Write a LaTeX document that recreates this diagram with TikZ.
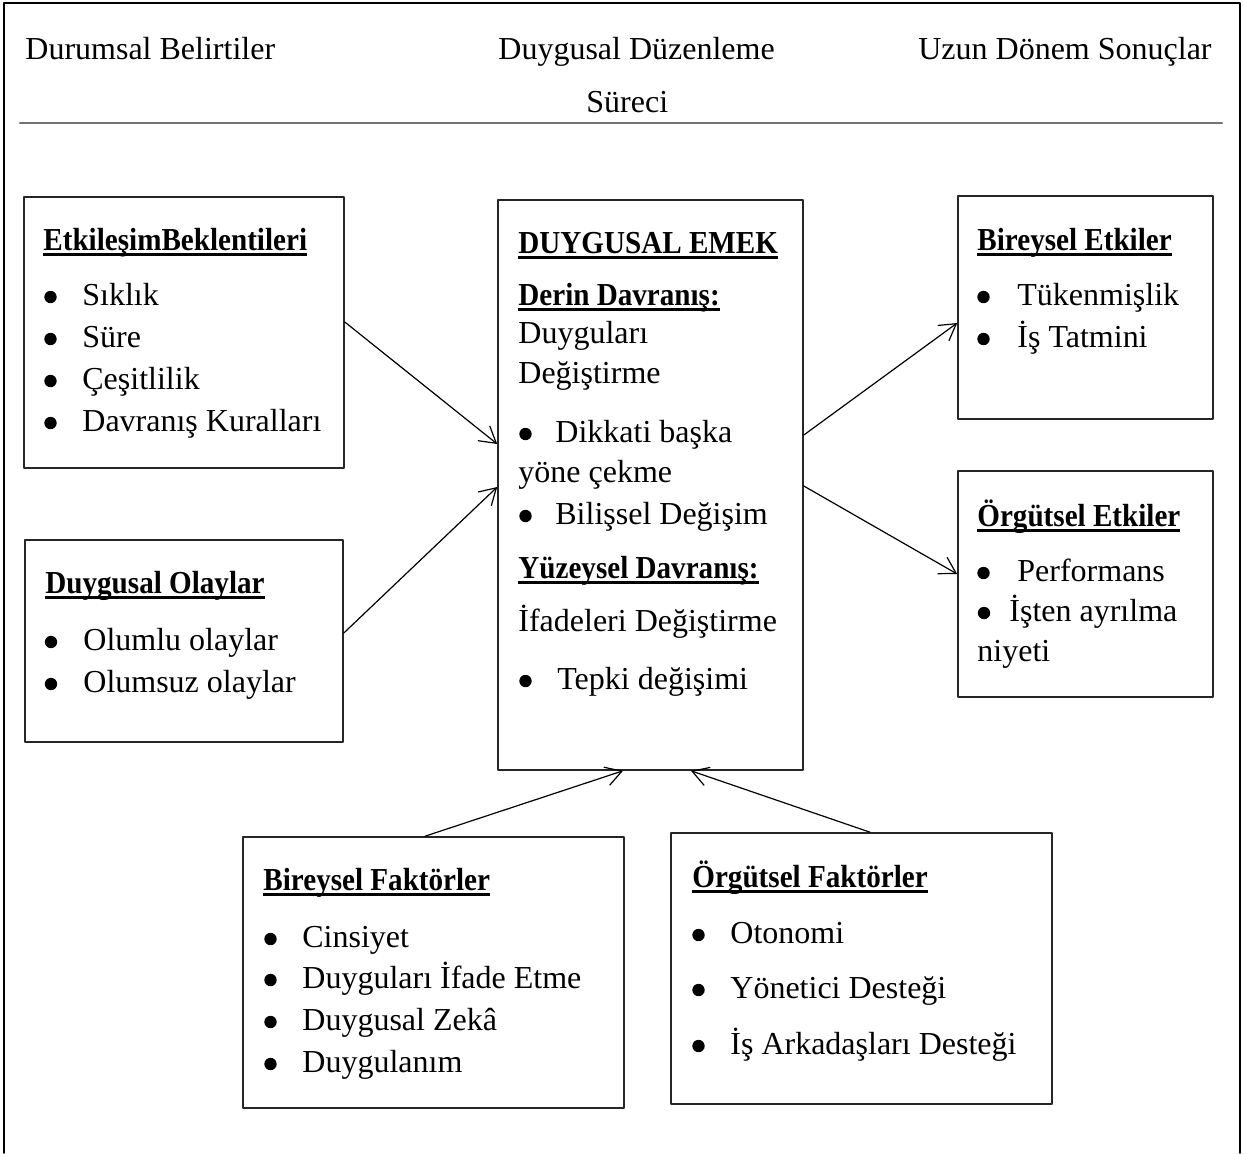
\documentclass[tikz,border=0pt]{standalone}
\usepackage{fontspec}
\setmainfont{Liberation Serif}[BoldFeatures={FakeStretch=0.91}]
\usetikzlibrary{arrows.meta,fit}
\newcommand{\fs}{\fontsize{16pt}{21pt}\selectfont}
\newcommand{\ulx}[1]{\setbox0=\hbox{#1}\rlap{\rule[-2.9pt]{\wd0}{1.5pt}}\box0}
\begin{document}
\begin{tikzpicture}[x=0.5pt,y=-0.5pt,>={Straight Barb[length=8pt,width=9.5pt]}, font=\fs, line join=round, line cap=round]
	\tikzset{box/.style={draw=black!85,line width=0.8pt,inner sep=0pt},
		txt/.style={anchor=base west,inner sep=0pt},
		hd/.style={txt,font=\fs\bfseries},
		dot/.style={circle,fill,inner sep=0pt,minimum size=6.2pt},
		arr/.style={->,line width=0.6pt}}
	\useasboundingbox (0,0) rectangle (1244,1153);
	\draw[line width=0.8pt] (4,1153)--(4,3)--(1240,3)--(1240,1153);%khung
	\draw[black!55,line width=1.3pt] (20,123)--(1222,123);
	\node[txt] (h1) at (25,59) {Durumsal Belirtiler};
	\node[txt] (h2) at (498,59) {Duygusal Düzenleme};
	\node[txt] (h3) at (586,112) {Süreci};
	\node[txt,anchor=base east] (h4) at (1212,59) {Uzun Dönem Sonuçlar};
	% sol
	\node[box,fit={(24,197)(344,468)}] (etk) {};
	\node[hd] (etk-t) at (43,250) {\ulx{EtkileşimBeklentileri}};
	\foreach \y/\t [count=\i] in {305/Sıklık,347/Süre,389/Çeşitlilik,431/Davranış Kuralları}{
		\node[dot] (etk-d\i) at (50.5,\y-8) {};
		\node[txt] (etk-\i) at (82,\y) {\t};
	}
	\node[box,fit={(25,540)(343,742)}] (olay) {};
	\node[hd] (olay-t) at (45,593) {\ulx{Duygusal Olaylar}};
	\foreach \y/\t [count=\i] in {650/Olumlu olaylar,692/Olumsuz olaylar}{
		\node[dot] (olay-d\i) at (51,\y-8) {};
		\node[txt] (olay-\i) at (83,\y) {\t};
	}
	% orta
	\node[box,fit={(498,200)(803,770)}] (emek) {};
	\node[hd] (emek-t) at (518,253) {\ulx{DUYGUSAL EMEK}};
	\node[hd] (emek-1) at (518,305) {\ulx{Derin Davranış:}};
	\node[txt] (emek-2) at (518,343) {Duyguları};
	\node[txt] (emek-3) at (518,383) {Değiştirme};
	\node[dot] (emek-d4) at (525.5,434) {};
	\node[txt] (emek-4) at (555,442) {Dikkati başka};
	\node[txt] (emek-5) at (518,482) {yöne çekme};
	\node[dot] (emek-d6) at (525.5,516) {};
	\node[txt] (emek-6) at (555,524) {Bilişsel Değişim};
	\node[hd] (emek-7) at (518,578) {\ulx{Yüzeysel Davranış:}};
	\node[txt] (emek-8) at (518,631) {İfadeleri Değiştirme};
	\node[dot] (emek-d9) at (525.5,681) {};
	\node[txt] (emek-9) at (557,689) {Tepki değişimi};
	% sag
	\node[box,fit={(958,196)(1213,419)}] (bet) {};
	\node[hd] (bet-t) at (977,250) {\ulx{Bireysel Etkiler}};
	\foreach \y/\t [count=\i] in {305/Tükenmişlik,347/İş Tatmini}{
		\node[dot] (bet-d\i) at (983.5,\y-8) {};
		\node[txt] (bet-\i) at (1017,\y) {\t};
	}
	\node[box,fit={(958,471)(1213,697)}] (oet) {};
	\node[hd] (oet-t) at (977,526) {\ulx{Örgütsel Etkiler}};
	\node[dot] (oet-d1) at (983.5,573) {};
	\node[txt] (oet-1) at (1017,581) {Performans};
	\node[dot] (oet-d2) at (984,613) {};
	\node[txt] (oet-2) at (1009,621) {İşten ayrılma};
	\node[txt] (oet-3) at (977,661) {niyeti};
	% alt
	\node[box,fit={(243,837)(624,1108)}] (bfak) {};
	\node[hd] (bfak-t) at (263,890) {\ulx{Bireysel Faktörler}};
	\foreach \y/\t [count=\i] in {947/Cinsiyet,988/Duyguları İfade Etme,1030/Duygusal Zekâ,1072/Duygulanım}{
		\node[dot] (bfak-d\i) at (270.5,\y-8) {};
		\node[txt] (bfak-\i) at (302,\y) {\t};
	}
	\node[box,fit={(671,833)(1052,1104)}] (ofak) {};
	\node[hd] (ofak-t) at (692,887) {\ulx{Örgütsel Faktörler}};
	\foreach \y/\t [count=\i] in {943/Otonomi,998/Yönetici Desteği,1054/İş Arkadaşları Desteği}{
		\node[dot] (ofak-d\i) at (698.5,\y-8) {};
		\node[txt] (ofak-\i) at (730,\y) {\t};
	}
	% oklar
	\draw[arr] ([shift={(0,-10.5)}]etk.east) -- ([shift={(0,-41)}]emek.west);
	\draw[arr] ([shift={(0,-8)}]olay.east) -- ([shift={(0,2)}]emek.west);
	\draw[arr] ([shift={(0,-50)}]emek.east) -- ([shift={(0,15.5)}]bet.west);
	\draw[arr] ([shift={(0,1)}]emek.east) -- ([shift={(0,-10)}]oet.west);
	\draw[arr] ([shift={(-8.5,0)}]bfak.north) -- ([shift={(-27.5,0)}]emek.south);
	\draw[arr] ([shift={(8.5,0)}]ofak.north) -- ([shift={(40.5,0)}]emek.south);
\end{tikzpicture}
\end{document}
